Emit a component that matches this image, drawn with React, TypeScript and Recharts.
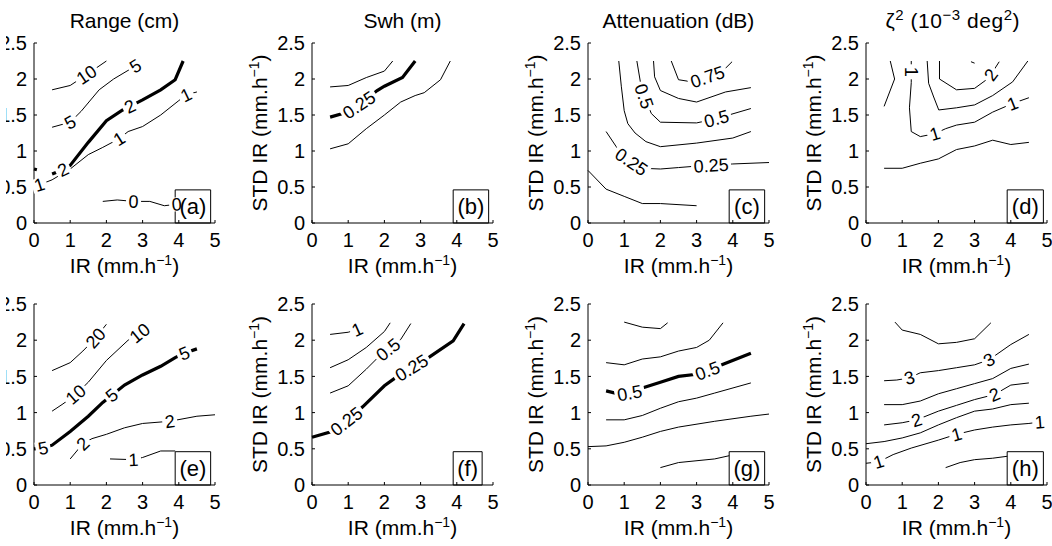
import React from 'react';
import { LineChart, Line, XAxis, YAxis, ReferenceArea } from 'recharts';

type Pt = [number, number];
type Mark = [number, string];

const irTicks = [0, 1, 2, 3, 4, 5];
const stdTicks = [0, 0.5, 1, 1.5, 2, 2.5];
const panelTags = ['(a)', '(b)', '(c)', '(d)', '(e)', '(f)', '(g)', '(h)'];

// (a) Range (cm), upper row
const rangeA10: Pt[] = [[0.5, 1.85], [1.0, 1.91], [1.45, 2.06], [2.0, 2.25]];
const rangeA10Marks: Mark[] = [[2, '10']];
const rangeA5: Pt[] = [[0.5, 1.33], [1.0, 1.4], [1.3, 1.55], [1.8, 1.85], [2.2, 2.0], [2.6, 2.12], [2.8, 2.18], [2.95, 2.23]];
const rangeA5Marks: Mark[] = [[1, '5'], [6, '5']];
const rangeA2: Pt[] = [[0.5, 0.68], [0.8, 0.74], [1.0, 0.8], [1.5, 1.12], [2.0, 1.42], [2.45, 1.57], [2.65, 1.62], [3.0, 1.71], [3.5, 1.85], [3.9, 1.99], [4.12, 2.25]];
const rangeA2Marks: Mark[] = [[1, '2'], [6, '2']];
const rangeA2Edge: Pt[] = [[0, 0.75], [0.08, 0.74]];
const rangeA1: Pt[] = [[0, 0.52], [0.15, 0.53], [0.5, 0.6], [1.0, 0.75], [1.5, 0.95], [1.9, 1.05], [2.35, 1.17], [2.6, 1.27], [3.0, 1.34], [3.5, 1.5], [4.0, 1.7], [4.2, 1.78], [4.5, 1.82]];
const rangeA1Marks: Mark[] = [[1, '1'], [6, '1'], [11, '1']];
const rangeA0: Pt[] = [[1.9, 0.3], [2.3, 0.32], [2.75, 0.3], [3.2, 0.3], [3.6, 0.24], [3.94, 0.26], [4.3, 0.27]];
const rangeA0Marks: Mark[] = [[2, '0'], [5, '0']];

// (b) Swh (m), upper row
const swhB1: Pt[] = [[0.5, 1.89], [1.0, 1.91], [1.5, 2.02], [2.0, 2.11], [2.23, 2.25]];
const swhB025: Pt[] = [[0.5, 1.47], [0.85, 1.52], [1.3, 1.64], [1.8, 1.84], [2.0, 1.9], [2.5, 2.02], [2.85, 2.25]];
const swhB025Marks: Mark[] = [[2, '0.25']];
const swhB2: Pt[] = [[0.5, 1.03], [1.0, 1.1], [1.5, 1.31], [2.0, 1.5], [2.45, 1.68], [2.85, 1.77], [3.1, 1.81], [3.55, 1.99], [3.82, 2.25]];

// (c) Attenuation (dB), upper row
const attC1: Pt[] = [[0, 0.73], [0.5, 0.47], [1.0, 0.37], [1.5, 0.27], [2.0, 0.27], [3.0, 0.24]];
const attC025: Pt[] = [[0.5, 1.27], [0.78, 1.06], [1.0, 0.93], [1.2, 0.85], [1.5, 0.76], [2.0, 0.75], [2.5, 0.77], [3.0, 0.79], [3.4, 0.8], [4.0, 0.82], [5.0, 0.84]];
const attC025Marks: Mark[] = [[3, '0.25'], [8, '0.25']];
const attC2: Pt[] = [[0.85, 2.25], [0.92, 1.9], [1.0, 1.56], [1.1, 1.38], [1.3, 1.25], [1.6, 1.13], [2.0, 1.06], [3.0, 1.11], [4.0, 1.18], [4.5, 1.27]];
const attC05: Pt[] = [[1.35, 2.25], [1.45, 1.95], [1.55, 1.76], [1.75, 1.52], [2.0, 1.4], [3.0, 1.39], [3.55, 1.45], [4.5, 1.59]];
const attC05Marks: Mark[] = [[2, '0.5'], [6, '0.5']];
const attC3: Pt[] = [[1.81, 2.25], [1.84, 2.03], [2.0, 1.84], [2.5, 1.73], [3.0, 1.68], [3.8, 1.82], [4.5, 1.88]];
const attC075: Pt[] = [[2.3, 2.25], [2.5, 1.99], [2.75, 1.97], [3.3, 2.03], [3.8, 2.15], [3.98, 2.24]];
const attC075Marks: Mark[] = [[3, '0.75']];

// (d) zeta^2, upper row
const zetaD1: Pt[] = [[0.67, 2.25], [0.79, 2.0], [0.5, 1.62]];
const zetaD2: Pt[] = [[1.25, 2.25], [1.25, 2.1], [1.25, 1.95], [1.2, 1.6], [1.25, 1.27], [1.5, 1.2], [1.9, 1.24], [2.2, 1.31], [2.5, 1.36], [3.0, 1.4], [3.5, 1.54], [4.05, 1.66], [4.5, 1.74]];
const zetaD2Marks: Mark[] = [[1, '1'], [6, '1'], [11, '1']];
const zetaD3: Pt[] = [[1.69, 2.25], [1.73, 1.94], [1.87, 1.75], [2.01, 1.57], [2.5, 1.6], [3.0, 1.64], [3.5, 1.77], [4.05, 1.96], [4.47, 2.25]];
const zetaD4: Pt[] = [[2.03, 2.25], [2.03, 2.0], [2.5, 1.85], [3.0, 1.87], [3.3, 1.98], [3.45, 2.06], [3.68, 2.24]];
const zetaD4Marks: Mark[] = [[5, '2']];
const zetaD5: Pt[] = [[2.9, 2.24], [3.0, 2.22]];
const zetaD6: Pt[] = [[0.5, 0.76], [1.0, 0.76], [1.5, 0.83], [2.0, 0.89], [2.5, 1.02], [3.0, 1.07], [3.5, 1.15], [4.0, 1.09], [4.5, 1.12]];

// (e) Range (cm), lower row
const rangeE20: Pt[] = [[0.5, 1.58], [1.0, 1.69], [1.35, 1.85], [1.7, 2.03], [2.0, 2.22]];
const rangeE20Marks: Mark[] = [[3, '20']];
const rangeE10: Pt[] = [[0.5, 1.02], [0.8, 1.12], [1.15, 1.25], [1.5, 1.42], [2.0, 1.72], [2.6, 2.0], [2.92, 2.1], [3.15, 2.22]];
const rangeE10Marks: Mark[] = [[2, '10'], [6, '10']];
const rangeE5: Pt[] = [[0, 0.5], [0.25, 0.51], [0.5, 0.55], [1.0, 0.74], [1.5, 0.95], [1.9, 1.14], [2.15, 1.24], [2.5, 1.38], [3.0, 1.52], [3.5, 1.64], [3.9, 1.76], [4.15, 1.82], [4.5, 1.88]];
const rangeE5Marks: Mark[] = [[1, '5'], [6, '5'], [11, '5']];
const rangeE2: Pt[] = [[1.0, 0.36], [1.35, 0.57], [1.6, 0.64], [2.0, 0.7], [2.5, 0.79], [3.0, 0.85], [3.75, 0.88], [4.5, 0.95], [5.0, 0.97]];
const rangeE2Marks: Mark[] = [[1, '2'], [6, '2']];
const rangeE1: Pt[] = [[2.1, 0.36], [2.75, 0.35], [3.0, 0.38], [3.5, 0.47], [3.9, 0.47]];
const rangeE1Marks: Mark[] = [[1, '1']];

// (f) Swh (m), lower row
const swhF1: Pt[] = [[0.5, 2.08], [1.0, 2.11], [1.25, 2.15], [1.4, 2.2]];
const swhF1Marks: Mark[] = [[2, '1']];
const swhF075: Pt[] = [[0.5, 1.62], [1.0, 1.73], [1.5, 1.9], [2.0, 2.12], [2.16, 2.24]];
const swhF05: Pt[] = [[0.5, 1.27], [1.0, 1.37], [1.5, 1.6], [1.8, 1.75], [2.1, 1.87], [2.45, 2.01], [2.73, 2.23]];
const swhF05Marks: Mark[] = [[4, '0.5']];
const swhF025: Pt[] = [[0, 0.66], [0.5, 0.73], [0.95, 0.88], [1.4, 1.08], [2.0, 1.37], [2.3, 1.48], [2.75, 1.62], [3.25, 1.77], [3.9, 1.99], [4.2, 2.23]];
const swhF025Marks: Mark[] = [[2, '0.25'], [6, '0.25']];

// (g) Attenuation (dB), lower row
const attG1: Pt[] = [[1.0, 2.25], [1.5, 2.18], [2.0, 2.16], [2.2, 2.24]];
const attG2: Pt[] = [[0.5, 1.69], [1.0, 1.66], [1.5, 1.74], [2.0, 1.77], [2.5, 1.85], [3.0, 1.9], [3.35, 2.0], [3.73, 2.24]];
const attG05: Pt[] = [[0.5, 1.3], [0.75, 1.27], [1.15, 1.27], [1.5, 1.34], [2.0, 1.42], [2.5, 1.5], [3.0, 1.53], [3.3, 1.58], [3.75, 1.67], [4.5, 1.82]];
const attG05Marks: Mark[] = [[2, '0.5'], [7, '0.5']];
const attG3: Pt[] = [[0.5, 0.9], [1.0, 0.9], [1.5, 0.96], [2.0, 1.06], [2.5, 1.15], [3.0, 1.2], [3.5, 1.27], [4.5, 1.41]];
const attG4: Pt[] = [[0, 0.53], [0.5, 0.54], [1.0, 0.59], [1.5, 0.66], [2.0, 0.74], [2.5, 0.8], [3.5, 0.88], [4.5, 0.95], [5.0, 0.98]];
const attG5: Pt[] = [[2.0, 0.24], [2.5, 0.31], [3.5, 0.36], [3.95, 0.41]];

// (h) zeta^2, lower row
const zetaH1: Pt[] = [[0.8, 2.25], [1.0, 2.14], [1.5, 2.08], [2.0, 1.95], [2.5, 1.97], [3.0, 2.02], [3.45, 2.24]];
const zetaH3: Pt[] = [[0.5, 1.44], [0.85, 1.45], [1.2, 1.48], [1.5, 1.55], [2.0, 1.58], [2.5, 1.62], [3.0, 1.66], [3.4, 1.73], [4.0, 1.94], [4.5, 2.08]];
const zetaH3Marks: Mark[] = [[2, '3'], [7, '3']];
const zetaH2b: Pt[] = [[0.5, 1.11], [1.0, 1.11], [1.5, 1.16], [2.0, 1.26], [2.5, 1.33], [3.0, 1.4], [3.5, 1.47], [4.0, 1.61], [4.5, 1.67]];
const zetaH2: Pt[] = [[0.5, 0.83], [1.0, 0.86], [1.4, 0.9], [2.0, 1.02], [2.5, 1.1], [3.0, 1.18], [3.55, 1.25], [4.0, 1.38], [4.5, 1.41]];
const zetaH2Marks: Mark[] = [[2, '2'], [6, '2']];
const zetaH1b: Pt[] = [[0, 0.57], [0.5, 0.6], [1.0, 0.65], [1.5, 0.72], [2.0, 0.83], [2.5, 0.93], [3.0, 1.02], [3.5, 1.05], [4.0, 1.11], [4.5, 1.13]];
const zetaH1c: Pt[] = [[0, 0.3], [0.35, 0.32], [0.75, 0.42], [1.25, 0.51], [2.0, 0.62], [2.5, 0.7], [3.0, 0.76], [3.5, 0.8], [4.0, 0.83], [4.5, 0.85], [4.8, 0.87], [5.0, 0.87]];
const zetaH1cMarks: Mark[] = [[1, '1'], [5, '1'], [10, '1']];
const zetaH0: Pt[] = [[2.2, 0.24], [2.6, 0.31], [3.0, 0.35], [3.5, 0.37], [3.95, 0.4]];

// ---- layout ----
const FONT = '"Liberation Sans", Arial, Helvetica, sans-serif';
const FS = 21;
const TICK_FS = 20;
const SUP = 14;
const LABEL_FS = 18;
const PW = 181;
const colLeft = [34, 312, 588, 866];
const rowTop = [43, 304];
const rowH = [180, 181];
const ML = 70;
const MT = 45;
const MR = 15;
const MB = 65;

interface Level { pts: Pt[]; marks?: Mark[]; bold?: boolean }
interface PanelDef { col: number; row: number; title?: React.ReactNode; titleLen?: number; tagRight: number; levels: Level[] }

const panels: PanelDef[] = [
  {
    col: 0, row: 0, title: 'Range (cm)', tagRight: 4.88,
    levels: [
      { pts: rangeA10, marks: rangeA10Marks },
      { pts: rangeA5, marks: rangeA5Marks },
      { pts: rangeA2, marks: rangeA2Marks, bold: true },
      { pts: rangeA2Edge, bold: true },
      { pts: rangeA1, marks: rangeA1Marks },
      { pts: rangeA0, marks: rangeA0Marks },
    ],
  },
  {
    col: 1, row: 0, title: 'Swh (m)', tagRight: 4.88,
    levels: [
      { pts: swhB1 },
      { pts: swhB025, marks: swhB025Marks, bold: true },
      { pts: swhB2 },
    ],
  },
  {
    col: 2, row: 0, title: 'Attenuation (dB)', tagRight: 4.88,
    levels: [
      { pts: attC1 },
      { pts: attC025, marks: attC025Marks },
      { pts: attC2 },
      { pts: attC05, marks: attC05Marks },
      { pts: attC3 },
      { pts: attC075, marks: attC075Marks },
    ],
  },
  {
    col: 3, row: 0, tagRight: 4.9, titleLen: 134,
    title: (
      <>
        ζ<tspan dy={-8} fontSize={15}>2</tspan>
        <tspan dy={8}> (10</tspan>
        <tspan dy={-8} fontSize={15}>−3</tspan>
        <tspan dy={8}> deg</tspan>
        <tspan dy={-8} fontSize={15}>2</tspan>
        <tspan dy={8}>)</tspan>
      </>
    ),
    levels: [
      { pts: zetaD1 },
      { pts: zetaD2, marks: zetaD2Marks },
      { pts: zetaD3 },
      { pts: zetaD4, marks: zetaD4Marks },
      { pts: zetaD5 },
      { pts: zetaD6 },
    ],
  },
  {
    col: 0, row: 1, tagRight: 4.88,
    levels: [
      { pts: rangeE20, marks: rangeE20Marks },
      { pts: rangeE10, marks: rangeE10Marks },
      { pts: rangeE5, marks: rangeE5Marks, bold: true },
      { pts: rangeE2, marks: rangeE2Marks },
      { pts: rangeE1, marks: rangeE1Marks },
    ],
  },
  {
    col: 1, row: 1, tagRight: 4.7,
    levels: [
      { pts: swhF1, marks: swhF1Marks },
      { pts: swhF075 },
      { pts: swhF05, marks: swhF05Marks },
      { pts: swhF025, marks: swhF025Marks, bold: true },
    ],
  },
  {
    col: 2, row: 1, tagRight: 4.88,
    levels: [
      { pts: attG1 },
      { pts: attG2 },
      { pts: attG05, marks: attG05Marks, bold: true },
      { pts: attG3 },
      { pts: attG4 },
      { pts: attG5 },
    ],
  },
  {
    col: 3, row: 1, tagRight: 4.9,
    levels: [
      { pts: zetaH1 },
      { pts: zetaH3, marks: zetaH3Marks },
      { pts: zetaH2b },
      { pts: zetaH2, marks: zetaH2Marks },
      { pts: zetaH1b },
      { pts: zetaH1c, marks: zetaH1cMarks },
      { pts: zetaH0 },
    ],
  },
];

// width of a contour label, for the white gap under it
const textW = (s: string) => s.split('').reduce((w, c) => w + (c === '.' ? 0.278 : 0.556) * LABEL_FS, 0);

function markRenderer(pts: Pt[], marks: Mark[], kx: number, ky: number) {
  return (p: any) => {
    const m = marks.find((mm) => mm[0] === p.index);
    if (!m || p.cx == null || p.cy == null) return <g key={`d-${p.index}`} />;
    const a = pts[Math.max(0, p.index - 1)];
    const b = pts[Math.min(pts.length - 1, p.index + 1)];
    let ang = (Math.atan2(-(b[1] - a[1]) * ky, (b[0] - a[0]) * kx) * 180) / Math.PI;
    if (ang > 90) ang -= 180;
    if (ang < -90) ang += 180;
    const w = textW(m[1]) + 5;
    return (
      <g key={`d-${p.index}`} transform={`translate(${p.cx},${p.cy}) rotate(${ang})`}>
        <rect x={-w / 2} y={-7} width={w} height={14} fill="#fff" />
        <text x={0} y={0} dy="0.35em" textAnchor="middle" fontSize={LABEL_FS} fill="#000">
          {m[1]}
        </text>
      </g>
    );
  };
}

const irLabel = (props: any) => {
  const vb = props.viewBox;
  return (
    <text x={vb.x + vb.width / 2} y={vb.y + 50} textAnchor="middle" fontSize={FS} fill="#000">
      IR (mm.h<tspan dy={-8} fontSize={SUP}>−1</tspan>
      <tspan dy={8}>)</tspan>
    </text>
  );
};

// left axis label, plus the panel title above the plot
const leftLabel = (title?: React.ReactNode, titleLen?: number) => (props: any) => {
  const vb = props.viewBox;
  const cx = vb.x + vb.width - 45;
  const cy = vb.y + vb.height / 2;
  const mid = vb.x + vb.width + PW / 2;
  return (
    <g>
      <text x={cx} y={cy} transform={`rotate(-90 ${cx} ${cy})`} textAnchor="middle" fontSize={FS} fill="#000">
        STD IR (mm.h<tspan dy={-8} fontSize={SUP}>−1</tspan>
        <tspan dy={8}>)</tspan>
      </text>
      {title ? (
        titleLen ? (
          <text
            x={mid - titleLen / 2 - 4} y={vb.y - 15} textAnchor="start" fontSize={FS} fill="#000"
            textLength={titleLen} lengthAdjust="spacing"
          >
            {title}
          </text>
        ) : (
          <text x={mid} y={vb.y - 15} textAnchor="middle" fontSize={FS} fill="#000">
            {title}
          </text>
        )
      ) : null}
    </g>
  );
};

const axisStroke = { stroke: '#000', strokeWidth: 1 };
const blank = () => '';

function Panel({ p, idx }: { p: PanelDef; idx: number }) {
  const h = rowH[p.row];
  const kx = PW / 5;
  const ky = h / 2.5;
  return (
    <div style={{ position: 'absolute', left: colLeft[p.col] - ML, top: rowTop[p.row] - MT }}>
      <LineChart width={ML + PW + MR} height={MT + h + MB} margin={{ top: MT, right: MR, left: 0, bottom: 0 }}>
        <XAxis
          dataKey="x" type="number" domain={[0, 5]} ticks={irTicks} interval={0}
          height={MB} tickSize={-3} tickMargin={13}
          tick={{ fontSize: TICK_FS, fill: '#000' }} axisLine={axisStroke} tickLine={axisStroke}
          label={irLabel}
        />
        <XAxis
          xAxisId="top" orientation="top" dataKey="x" type="number" domain={[0, 5]} ticks={irTicks} interval={0}
          height={0} tickSize={-3} tickFormatter={blank} axisLine={axisStroke} tickLine={axisStroke}
        />
        <YAxis
          type="number" domain={[0, 2.5]} ticks={stdTicks} interval={0}
          width={ML} tickSize={-3} tickMargin={10}
          tick={{ fontSize: TICK_FS, fill: '#000' }} axisLine={axisStroke} tickLine={axisStroke}
          label={leftLabel(p.title, p.titleLen)}
        />
        <YAxis
          yAxisId="right" orientation="right" type="number" domain={[0, 2.5]} ticks={stdTicks} interval={0}
          width={0} tickSize={-3} tickFormatter={blank} axisLine={axisStroke} tickLine={axisStroke}
        />
        {p.levels.map((lv, i) => (
          <Line
            key={i}
            data={lv.pts.map(([x, y]) => ({ x, y }))}
            dataKey="y"
            type="linear"
            stroke="#000"
            strokeWidth={lv.bold ? 3.2 : 1}
            dot={lv.marks ? markRenderer(lv.pts, lv.marks, kx, ky) : false}
            activeDot={false}
            isAnimationActive={false}
          />
        ))}
        <ReferenceArea
          x1={3.9} x2={p.tagRight} y1={0} y2={0.46}
          fill="#fff" fillOpacity={1} stroke="#000" strokeWidth={1}
          zIndex={450}
          label={{ value: panelTags[idx], position: 'center', fontSize: 22, fill: '#000' }}
        />
      </LineChart>
    </div>
  );
}

export default function App() {
  return (
    <div
      style={{
        position: 'absolute', left: 0, top: 0, width: 1052, height: 546,
        overflow: 'hidden', background: '#fff', fontFamily: FONT,
        // the source figure is trimmed a few pixels in from the left
        clipPath: 'inset(0 0 0 6px)',
      }}
    >
      {panels.map((p, i) => (
        <Panel key={i} p={p} idx={i} />
      ))}
    </div>
  );
}
